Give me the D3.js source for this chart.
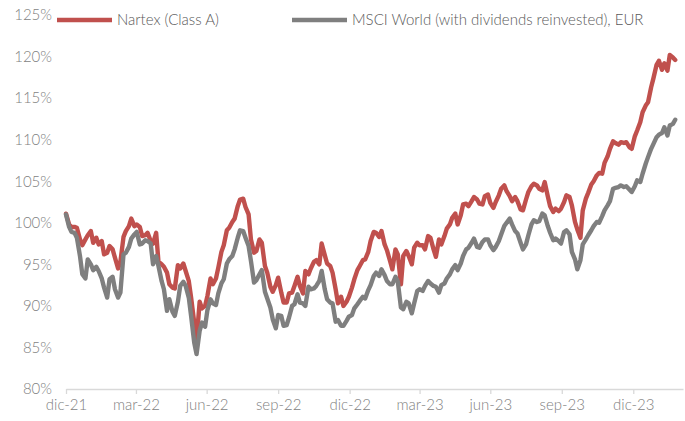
<!DOCTYPE html>
<html>
<head>
<meta charset="utf-8">
<script src="https://cdn.jsdelivr.net/npm/d3@7"></script>
<style>
  body { margin: 0; background: #fff; }
  svg text { font-family: Lato, "Open Sans", sans-serif; font-weight: 300; }
</style>
</head>
<body>
<div id="chart"></div>
<script>
// closes on tuesdays and fridays, base 100
var dates = [
  "2021-12-31","2022-01-04","2022-01-07","2022-01-11","2022-01-14","2022-01-18","2022-01-21","2022-01-25","2022-01-28","2022-02-01",
  "2022-02-04","2022-02-08","2022-02-11","2022-02-15","2022-02-18","2022-02-22","2022-02-25","2022-03-01","2022-03-04","2022-03-08",
  "2022-03-11","2022-03-15","2022-03-18","2022-03-22","2022-03-25","2022-03-29","2022-04-01","2022-04-05","2022-04-08","2022-04-12",
  "2022-04-15","2022-04-19","2022-04-22","2022-04-26","2022-04-29","2022-05-03","2022-05-06","2022-05-10","2022-05-13","2022-05-17",
  "2022-05-20","2022-05-24","2022-05-27","2022-05-31","2022-06-03","2022-06-07","2022-06-10","2022-06-14","2022-06-17","2022-06-21",
  "2022-06-24","2022-06-28","2022-07-01","2022-07-05","2022-07-08","2022-07-12","2022-07-15","2022-07-19","2022-07-22","2022-07-26",
  "2022-07-29","2022-08-02","2022-08-05","2022-08-09","2022-08-12","2022-08-16","2022-08-19","2022-08-23","2022-08-26","2022-08-30",
  "2022-09-02","2022-09-06","2022-09-09","2022-09-13","2022-09-16","2022-09-20","2022-09-23","2022-09-27","2022-09-30","2022-10-04",
  "2022-10-07","2022-10-11","2022-10-14","2022-10-18","2022-10-21","2022-10-25","2022-10-28","2022-11-01","2022-11-04","2022-11-08",
  "2022-11-11","2022-11-15","2022-11-18","2022-11-22","2022-11-25","2022-11-29","2022-12-02","2022-12-06","2022-12-09","2022-12-13",
  "2022-12-16","2022-12-20","2022-12-23","2022-12-27","2022-12-30","2023-01-03","2023-01-06","2023-01-10","2023-01-13","2023-01-17",
  "2023-01-20","2023-01-24","2023-01-27","2023-01-31","2023-02-03","2023-02-07","2023-02-10","2023-02-14","2023-02-17","2023-02-21",
  "2023-02-24","2023-02-28","2023-03-03","2023-03-07","2023-03-10","2023-03-14","2023-03-17","2023-03-21","2023-03-24","2023-03-28",
  "2023-03-31","2023-04-04","2023-04-07","2023-04-11","2023-04-14","2023-04-18","2023-04-21","2023-04-25","2023-04-28","2023-05-02",
  "2023-05-05","2023-05-09","2023-05-12","2023-05-16","2023-05-19","2023-05-23","2023-05-26","2023-05-30","2023-06-02","2023-06-06",
  "2023-06-09","2023-06-13","2023-06-16","2023-06-20","2023-06-23","2023-06-27","2023-06-30","2023-07-04","2023-07-07","2023-07-11",
  "2023-07-14","2023-07-18","2023-07-21","2023-07-25","2023-07-28","2023-08-01","2023-08-04","2023-08-08","2023-08-11","2023-08-15",
  "2023-08-18","2023-08-22","2023-08-25","2023-08-29","2023-09-01","2023-09-05","2023-09-08","2023-09-12","2023-09-15","2023-09-19",
  "2023-09-22","2023-09-26","2023-09-29","2023-10-03","2023-10-06","2023-10-10","2023-10-13","2023-10-17","2023-10-20","2023-10-24",
  "2023-10-27","2023-10-31","2023-11-03","2023-11-07","2023-11-10","2023-11-14","2023-11-17","2023-11-21","2023-11-24","2023-11-28",
  "2023-12-01","2023-12-05","2023-12-08","2023-12-12","2023-12-15","2023-12-19","2023-12-22","2023-12-26","2023-12-29","2024-01-02",
  "2024-01-05","2024-01-09","2024-01-12","2024-01-16","2024-01-19","2024-01-23","2024-01-26","2024-01-30","2024-02-02","2024-02-06",
  "2024-02-09","2024-02-13","2024-02-16","2024-02-20","2024-02-23"];

var nartex = [
  101.1,99.8,99.5,99.5,99.4,98.0,97.3,98.0,98.5,99.0,97.6,98.2,97.4,97.8,96.2,96.4,97.2,96.8,95.8,94.5,
  95.3,98.3,99.0,99.6,100.5,99.6,99.8,99.5,98.4,98.5,98.8,97.8,97.5,98.8,95.3,95.0,94.7,94.0,92.6,92.2,
  92.1,94.9,94.5,95.1,94.2,93.0,91.0,88.0,85.8,90.5,89.7,90.0,91.2,93.3,92.6,93.3,94.6,96.5,97.3,99.1,
  99.4,100.1,100.5,102.0,102.8,102.9,101.9,101.0,98.0,96.4,96.6,98.0,97.6,94.8,94.0,92.3,91.7,92.5,93.4,91.6,
  90.4,90.4,91.5,91.6,92.4,93.5,92.4,91.5,94.2,93.8,94.5,95.3,95.5,95.0,97.5,96.1,95.1,94.8,94.0,92.0,
  90.3,91.1,90.0,90.5,91.1,92.2,93.2,94.3,94.8,95.5,95.6,96.5,97.8,98.9,98.8,98.3,99.0,97.4,96.7,95.4,
  94.4,96.8,96.2,92.6,96.0,96.6,96.0,95.0,97.0,97.6,97.3,97.3,96.8,98.4,98.2,96.8,95.9,98.0,97.4,98.4,
  99.3,99.8,100.6,101.1,99.8,100.9,102.2,102.3,102.0,102.6,103.1,102.8,102.3,102.2,103.2,103.4,102.4,101.8,102.5,103.3,
  104.1,104.5,103.8,103.2,102.6,103.1,102.6,101.6,101.5,102.8,103.7,104.4,104.7,104.5,104.1,103.9,104.9,103.2,102.0,101.3,
  101.7,101.4,101.7,102.5,103.3,103.1,102.1,100.1,99.2,98.2,101.5,102.9,103.6,104.6,105.0,105.7,106.0,105.9,107.2,108.0,
  108.9,109.8,109.6,109.4,109.7,109.6,109.7,109.1,108.9,110.4,111.1,112.1,113.3,114.1,114.5,116.3,117.4,119.0,119.5,118.4,
  119.2,118.3,120.2,119.9,119.6];

var msci = [
  101.0,99.5,98.9,98.8,98.2,96.0,93.8,93.3,95.6,95.0,94.3,94.7,94.2,93.3,92.2,91.0,93.2,93.5,92.0,91.0,
  91.6,96.2,96.4,97.1,98.1,98.6,98.9,97.4,97.5,97.9,97.8,97.5,95.0,96.0,94.8,93.0,92.0,89.4,90.8,89.3,
  88.8,90.5,92.4,92.9,92.4,91.0,88.8,85.6,84.2,87.0,88.0,87.5,89.5,90.8,90.3,90.1,91.5,92.7,93.2,95.1,
  95.6,96.0,96.8,98.2,99.1,99.0,98.2,97.2,95.4,92.8,93.1,93.8,94.3,91.7,90.9,89.8,88.4,87.3,88.9,88.8,
  87.6,87.7,88.6,90.0,90.2,91.4,90.4,90.3,90.0,92.3,92.0,92.1,92.4,93.0,94.2,92.0,90.8,90.4,90.3,88.1,
  88.3,87.6,87.6,88.2,88.7,88.9,89.7,90.2,90.6,91.1,90.9,91.9,92.5,93.6,94.0,93.6,94.4,93.7,93.0,92.6,
  92.6,93.5,92.9,89.8,89.6,90.5,90.3,89.1,90.3,91.8,92.0,91.8,92.4,93.0,92.7,92.4,92.3,91.6,92.5,92.7,
  93.3,93.8,94.4,94.9,94.3,95.1,96.0,96.8,97.0,97.6,98.1,97.1,97.0,97.7,98.0,98.0,97.3,96.7,97.1,97.8,
  98.6,99.6,100.0,100.5,99.8,99.0,98.7,97.6,96.8,97.4,98.5,99.8,100.3,100.1,100.2,101.1,100.9,99.6,98.8,97.9,
  98.1,97.8,97.5,98.9,99.1,98.6,96.5,95.6,94.4,95.5,97.4,98.0,98.5,99.1,99.6,100.1,100.0,100.8,101.5,102.1,
  102.6,104.1,104.2,104.3,104.5,104.3,104.4,104.0,103.7,104.4,105.1,104.9,105.9,107.1,107.9,108.9,109.5,110.3,110.6,110.8,
  111.5,110.5,111.7,111.9,112.4];

var seriesNames = ["Nartex (Class A)", "MSCI World (with dividends reinvested), EUR"];
var seriesColors = ["#c0504d", "#7f7f7f"];

var xTickDates = ["2021-12-31","2022-03-31","2022-06-30","2022-09-30","2022-12-31",
                  "2023-03-31","2023-06-30","2023-09-30","2023-12-31"];
var xTickLabels = ["dic-21","mar-22","jun-22","sep-22","dic-22","mar-23","jun-23","sep-23","dic-23"];
var yTicks = [80, 85, 90, 95, 100, 105, 110, 115, 120, 125];

var W = 685, H = 421;
var margin = {top: 15, right: 2, bottom: 32, left: 66};
var width = W - margin.left - margin.right,
    height = H - margin.top - margin.bottom;

var parse = d3.timeParse("%Y-%m-%d");

var svg = d3.select("#chart")
  .append("svg")
    .attr("width", W)
    .attr("height", H)
  .append("g")
    .attr("transform", "translate(" + margin.left + "," + margin.top + ")");

var x = d3.scaleTime()
  .domain([parse("2021-12-31"), parse("2024-03-04")])
  .range([0, width]);

var y = d3.scaleLinear()
  .domain([80, 125])
  .range([height, 0]);

// X axis
var xAxis = svg.append("g")
  .attr("transform", "translate(0," + height + ")")
  .call(d3.axisBottom(x)
    .tickValues(xTickDates.map(parse))
    .tickSize(5)
    .tickSizeOuter(0)
    .tickPadding(5)
    .tickFormat(function(d, i) { return xTickLabels[i]; }));
xAxis.select(".domain").attr("stroke", "#d9d9d9").attr("stroke-width", 1.3);
xAxis.selectAll(".tick line").attr("stroke", "#d9d9d9").attr("stroke-width", 1.3);
xAxis.selectAll("text")
  .attr("fill", "#7f7f7f")
  .style("font-size", "15px");

// Y axis, labels only
var yAxis = svg.append("g")
  .call(d3.axisLeft(y)
    .tickValues(yTicks)
    .tickSize(0)
    .tickPadding(14)
    .tickFormat(function(d) { return d + "%"; }));
yAxis.select(".domain").remove();
yAxis.selectAll("text")
  .attr("fill", "#7f7f7f")
  .style("font-size", "15px");

// Lines
var line = d3.line()
  .x(function(d) { return x(d.date); })
  .y(function(d) { return y(d.value); });

var series = [nartex, msci].map(function(vals, k) {
  return {
    name: seriesNames[k],
    color: seriesColors[k],
    values: vals.map(function(v, i) { return {date: parse(dates[i]), value: v}; })
  };
});

svg.selectAll(".series")
  .data(series)
  .enter()
  .append("path")
    .attr("class", "series")
    .attr("fill", "none")
    .attr("stroke", function(d) { return d.color; })
    .attr("stroke-width", 4.4)
    .attr("stroke-linejoin", "round")
    .attr("stroke-linecap", "round")
    .attr("d", function(d) { return line(d.values); });

// Legend
var legendX = [57 - margin.left, 292 - margin.left];
var legend = svg.selectAll(".legend")
  .data(series)
  .enter()
  .append("g")
    .attr("class", "legend")
    .attr("transform", function(d, i) { return "translate(" + legendX[i] + "," + (20 - margin.top) + ")"; });
legend.append("line")
  .attr("x1", 0).attr("x2", 55)
  .attr("stroke", function(d) { return d.color; })
  .attr("stroke-width", 4.4);
legend.append("text")
  .attr("x", 60)
  .attr("dy", "0.35em")
  .attr("fill", "#595959")
  .style("font-size", "15px")
  .text(function(d) { return d.name; });
</script>
</body>
</html>
